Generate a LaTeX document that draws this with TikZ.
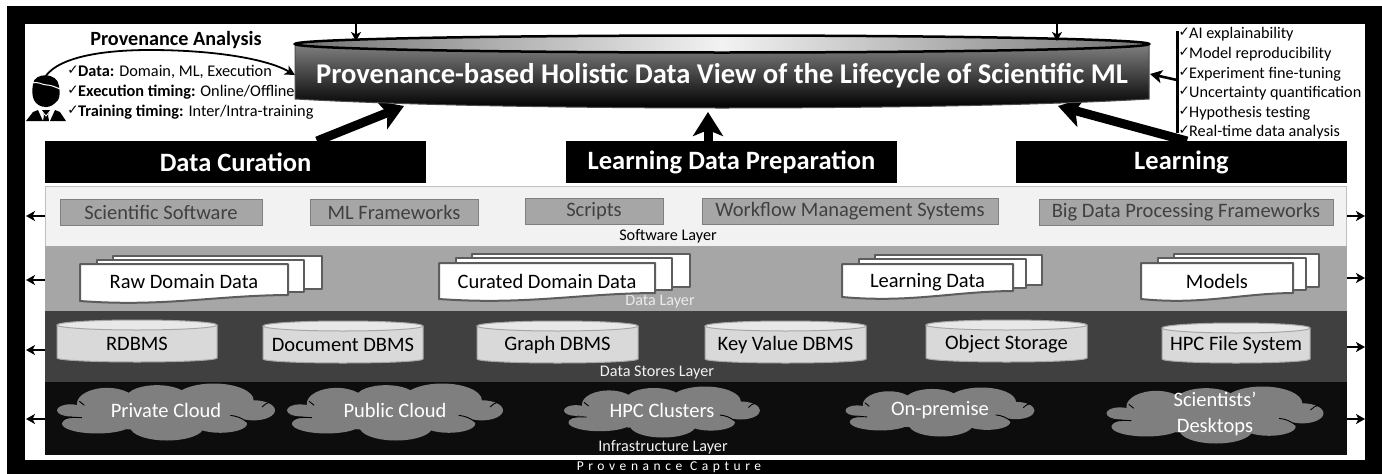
\documentclass[tikz,border=0pt]{standalone}
\usepackage{fontspec}
\setmainfont{Carlito}
\newfontfamily\symf{DejaVu Sans}
\usetikzlibrary{arrows.meta,calc}
\definecolor{swfill}{HTML}{F2F2F2}
\definecolor{dlfill}{HTML}{A6A6A6}
\definecolor{dsfill}{HTML}{404040}
\definecolor{infill}{HTML}{0D0D0D}
\definecolor{cloudc}{HTML}{7F7F7F}
\newcommand{\ck}{{\symf\fontsize{13.5}{13.5}\selectfont ✓}}
\tikzset{
  layerlab/.style={font=\fontsize{16.2}{17}\selectfont,inner sep=0pt},
  header/.style={fill=black,text=white,font=\bfseries\fontsize{26.5}{27}\selectfont,inner sep=0pt,anchor=center},
  swbox/.style={fill=dlfill,draw=cloudc,line width=1pt,text=dsfill,font=\fontsize{20.5}{22}\selectfont,inner sep=0pt},
  itemtext/.style={font=\fontsize{20.5}{22}\selectfont,inner sep=0pt},
  lista/.style={font=\fontsize{16.3}{18}\selectfont,inner sep=0pt,anchor=west},
  listb/.style={font=\fontsize{16.2}{18}\selectfont,inner sep=0pt,anchor=west},
  bigarrow/.style={line width=9pt,-{Stealth[length=24pt,width=30pt,inset=6pt]}},
  smallarrow/.style={line width=2pt,-{Stealth[length=9pt,width=10pt,inset=2.5pt]}},
  docshape/.style={fill=white,draw=dsfill!85!white,line width=2pt,line join=round},
}
% cloud: name, cx, cy, width, height, text
\newcommand{\mycloud}[6]{%
  \begin{scope}[shift={(#2,#3)}]
  \pgfmathsetmacro{\sxx}{#4/654}\pgfmathsetmacro{\syy}{#5/170}
  \begin{scope}[xscale=\sxx,yscale=\syy]
   \fill[cloudc] (-177,-25) ellipse (90pt and 47pt)
    (-27,-45) ellipse (90pt and 35pt)
    (143,-35) ellipse (120pt and 50pt)
    (263,-5) ellipse (64pt and 30pt)
    (163,35) ellipse (80pt and 27pt)
    (3,45) ellipse (110pt and 40pt)
    (-207,35) ellipse (105pt and 29pt)
    (-287,-5) ellipse (40pt and 18pt)
    (-27,5) ellipse (240pt and 50pt);
   \draw[black,line width=.9pt] (288,-15) to[bend left=15] (313,-30)
     (193,10) to[bend left=15] (243,30)
     (-307,20) to[bend left=8] (-252,17)
     (-260,-32) to[bend right=10] (-245,-20);
  \end{scope}
  \end{scope}
  \node[itemtext,text=white,align=center] (#1) at (#2,#3-1.5) {#6};
}
% cylinder: name,x0,x1,ytop,ybot,text
\newcommand{\mycyl}[6]{%
  \pgfmathsetmacro{\rxx}{(#3-#2)/2}
  \pgfmathsetmacro{\cxx}{(#3+#2)/2}
  \fill[fill=black!15] (#2,#4+5) -- (#2,#5-4) arc[start angle=180,end angle=360,x radius=\rxx pt,y radius=4pt] -- (#3,#4+5) -- cycle;
  \draw[dlfill,line width=1pt] (#2,#4+5) -- (#2,#5-4) arc[start angle=180,end angle=360,x radius=\rxx pt,y radius=4pt] -- (#3,#4+5);
  \filldraw[fill=black!9,draw=dlfill,line width=1pt] (\cxx,#4+5) ellipse (\rxx pt and 5pt);
  \node[itemtext,text=black] (#1) at (\cxx,#5-18) {#6};
}
% stacked doc: name,x0,xf,xm,xr,ytopf,ybot,ytopr,text
\newcommand{\mydoc}[9]{%
  \filldraw[docshape] (#2+33,#8) rectangle (#5,#7-13);
  \filldraw[docshape] (#2+17,#8+4) rectangle (#4,#7-10);
  \filldraw[docshape] (#2,#6) -- (#3,#6) -- (#3,#7-7)
    .. controls ($(#3,#7-7)!0.35!(#2,#7)+(0,-2)$) and ($(#3,#7-7)!0.6!(#2,#7)+(0,8)$) .. (#2,#7-1) -- cycle;
  \pgfmathsetmacro{\cxx}{(#2+#3)/2}
  \node[itemtext,text=black] (#1) at (\cxx,#6+18) {#9};
}
\begin{document}
\begin{tikzpicture}[x=1pt,y=-1pt]
\useasboundingbox (0,0) rectangle (1382,474);
\fill[white] (0,0) rectangle (1382,474);
% frame
\fill[black] (7,6) rectangle (1382,474);
\fill[white] (25,24) rectangle (1365,460);
\node[text=white,font=\fontsize{13.5}{14}\selectfont\addfontfeature{LetterSpace=34},inner sep=0pt] (capture) at (669,467) {Provenance Capture};
% layers
\filldraw[fill=swfill,draw=black!25,line width=.8pt] (45,186.5) rectangle (1346,246);
\fill[dlfill] (45,246) rectangle (1347,311);
\fill[dsfill] (45,311) rectangle (1347,382);
\fill[infill] (45,382) rectangle (1347,455);
\node[layerlab,text=black] (swl) at (668,236) {Software Layer};
\node[layerlab,text=black!8] (dl) at (660,302) {Data Layer};
\node[layerlab,text=black!5] (dsl) at (657,373) {Data Stores Layer};
\node[layerlab,text=black!5] (il) at (663,447) {Infrastructure Layer};
% software
\node[swbox,minimum width=202pt,minimum height=26pt] (s1) at (161,212) {Scientific Software};
\node[swbox,minimum width=168pt,minimum height=26pt] (s2) at (394,212) {ML Frameworks};
\node[swbox,minimum width=138pt,minimum height=26pt] (s3) at (594,211.5) {Scripts};
\node[swbox,minimum width=296pt,minimum height=26pt] (s4) at (850,211.5) {Workflow Management Systems};
\node[swbox,minimum width=294pt,minimum height=26pt] (s5) at (1186,212) {Big Data Processing Frameworks};
% data
\mydoc{d1}{80}{288}{304}{322}{264}{302}{255.5}{Raw Domain Data}
\mydoc{d2}{439}{655}{672}{690}{263}{300}{254}{Curated Domain Data}
\mydoc{d3}{842}{1013}{1026}{1042}{264}{298}{255}{Learning Data}
\mydoc{d4}{1141}{1293}{1306}{1319}{263}{300}{254}{Models}
% stores
\mycyl{c1}{57}{217}{320}{362}{RDBMS}
\mycyl{c2}{263}{423}{321}{363}{Document DBMS}
\mycyl{c3}{477}{638}{321}{363}{Graph DBMS}
\mycyl{c4}{705}{866}{321}{363}{Key Value DBMS}
\mycyl{c5}{926}{1087}{320}{362}{Object Storage}
\mycyl{c6}{1162}{1310}{323}{363}{HPC File System}
% infrastructure
\mycloud{i1}{166}{412}{218}{57}{Private Cloud}
\mycloud{i2}{395}{412}{216}{57}{Public Cloud}
\mycloud{i3}{662}{412}{196}{51}{HPC Clusters}
\mycloud{i4}{940}{412}{189}{49}{On-premise}
\mycloud{i5}{1215}{415}{217}{57}{Scientists’\\[4pt]Desktops}
% side arrows
\foreach \n/\y in {a/216,b/280,c/350,d/419}{
  \coordinate (l\n s) at (45,\y); \coordinate (l\n e) at (26,\y);
  \draw[smallarrow] (l\n s) -- (l\n e);
}
\foreach \n/\y in {a/216,b/278,c/347,d/419}{
  \coordinate (r\n s) at (1347,\y); \coordinate (r\n e) at (1365,\y);
  \draw[smallarrow] (r\n s) -- (r\n e);
}
% headers
\node[header,minimum width=381pt,minimum height=42pt] (h1) at (235.5,162) {Data Curation};
\node[header,minimum width=331pt,minimum height=42pt] (h2) at (731.5,162) {Learning Data Preparation};
\node[header,minimum width=331pt,minimum height=42pt] (h3) at (1181.5,162) {Learning};
% big arrows
\coordinate (t1) at (317,141); \coordinate (e1) at (404,106);
\coordinate (t2) at (708,141); \coordinate (e2) at (708,112);
\coordinate (t3) at (1187,141); \coordinate (e3) at (1058,106);
\draw[bigarrow] (t1) -- (e1);
\draw[bigarrow] (t2) -- (e2);
\draw[bigarrow] (t3) -- (e3);
% top arrows
\coordinate (ta1) at (356,24); \coordinate (tb1) at (356,41);
\coordinate (ta2) at (1057,24); \coordinate (tb2) at (1057,41);
% main cylinder
\path[top color=black!50,middle color=black!88,bottom color=black] (295,44) -- (295,99) .. controls (420,106) and (600,108) .. (722,108) .. controls (850,108) and (1030,106) .. (1149,99) -- (1149,44) -- cycle;
\draw[black!70,line width=1pt] (295,44) -- (295,99) .. controls (420,106) and (600,108) .. (722,108) .. controls (850,108) and (1030,106) .. (1149,99) -- (1149,44);
\filldraw[draw=black,line width=2.5pt,left color=black!55,right color=black!55,middle color=black!5] (722,44) ellipse (427pt and 8.5pt);
\node[text=white,font=\bfseries\fontsize{28.6}{30}\selectfont,inner sep=0pt] (title) at (722,76) {Provenance-based Holistic Data View of the Lifecycle of Scientific ML};
\draw[smallarrow] (ta1) -- (tb1);
\draw[smallarrow] (ta2) -- (tb2);
% provenance analysis
\node[font=\bfseries\fontsize{20.2}{21}\selectfont,inner sep=0pt] (pa) at (176,40) {Provenance Analysis};
\node[lista] (l1) at (78,72) {\textbf{Data:} Domain, ML, Execution};
\node[lista] (l2) at (78,92) {\textbf{Execution timing:} Online/Offline};
\node[lista] (l3) at (78,112) {\textbf{Training timing:} Inter/Intra-training};
\node[inner sep=0pt,anchor=east] (k1) at (79,70) {\ck};
\node[inner sep=0pt,anchor=east] (k2) at (79,90) {\ck};
\node[inner sep=0pt,anchor=east] (k3) at (79,110) {\ck};
\coordinate (pstart) at (45,77); \coordinate (pend) at (295,75);
\draw[line width=1.8pt,-{Stealth[length=10pt,width=10pt,inset=2.5pt]}] (pstart) .. controls (60,55) and (110,50) .. (150,50) .. controls (210,50) and (265,58) .. (pend);
% person
\fill[black] (33,84) .. controls (34,72) and (58,72) .. (59,86) .. controls (60,92) and (60,97) .. (58,100) .. controls (54,105) and (50,107) .. (46,107) .. controls (40,107) and (36,104) .. (34,100) .. controls (32,96) and (32,90) .. (33,84) -- cycle;
\draw[white,line width=1pt] (32,83) .. controls (38,81) and (42,85) .. (47,85) .. controls (51,85) and (55,87) .. (60,89);
\fill[black] (26,121) -- (33,112) -- (38,110) -- (43,121) -- cycle;
\fill[black] (55,110) -- (60,112) -- (66,121) -- (50,121) -- cycle;
\fill[black] (42,110) -- (50,110) -- (48,115) -- (49,121) -- (43,121) -- (44,115) -- cycle;
\draw[white,line width=.8pt] (41,110) -- (46,116) -- (51,110);
% right list
\coordinate (bar1) at (1177,31); \coordinate (bar2) at (1177,133);
\draw[line width=3pt] (bar1) -- (bar2);
\coordinate (bar3) at (1177,80); \coordinate (cy1) at (1150,74);
\draw[line width=2.6pt,-{Stealth[length=12pt,width=13pt,inset=3pt]}] (bar3) -- (cy1);
\foreach \n/\y/\t in {1/34/AI explainability,2/54/Model reproducibility,3/74/Experiment fine-tuning,4/93.5/Uncertainty quantification,5/113/Hypothesis testing,6/132/Real-time data analysis}{
  \node[listb] (rl\n) at (1189,\y) {\t};
  \node[inner sep=0pt,anchor=east] (rk\n) at (1190,\y-2) {\ck};
}
\end{tikzpicture}
\end{document}
